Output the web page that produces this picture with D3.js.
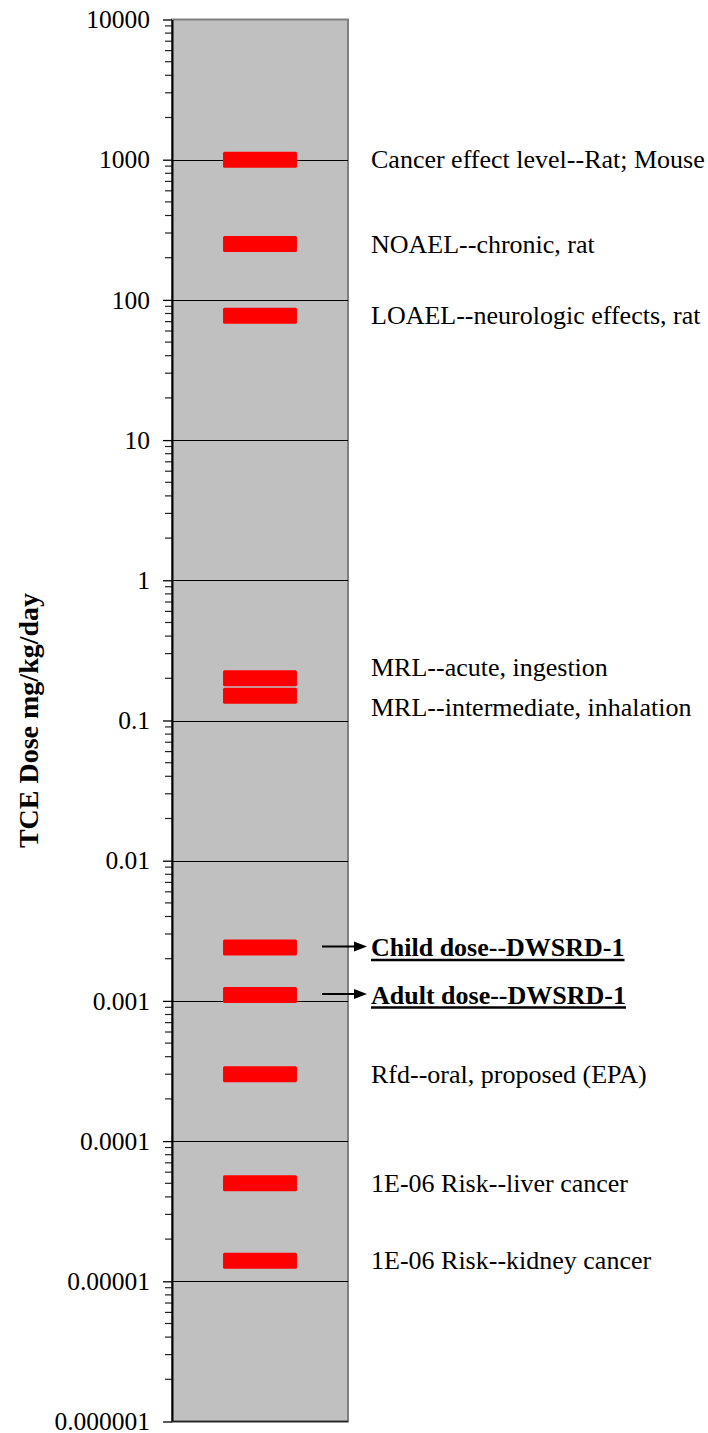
<!DOCTYPE html>
<html>
<head>
<meta charset="utf-8">
<script src="https://cdn.jsdelivr.net/npm/d3@7"></script>
<style>
  html, body { margin: 0; padding: 0; background: #ffffff; }
  svg { display: block; }
  text { font-family: "Liberation Serif", "Times New Roman", serif; }
</style>
</head>
<body>
<svg id="chart" width="708" height="1433"></svg>
<script>
// ---- data ----
const categories = [
  "Cancer effect level--Rat; Mouse",
  "NOAEL--chronic, rat",
  "LOAEL--neurologic effects, rat",
  "MRL--acute, ingestion",
  "MRL--intermediate, inhalation",
  "Child dose--DWSRD-1",
  "Adult dose--DWSRD-1",
  "Rfd--oral, proposed (EPA)",
  "1E-06 Risk--liver cancer",
  "1E-06 Risk--kidney cancer"
];
const doses = [1000, 250, 77, 0.2, 0.15, 0.0024, 0.0011, 0.0003, 0.00005, 0.000014];
const highlighted = [false, false, false, false, false, true, true, false, false, false];
const tickValues = [10000, 1000, 100, 10, 1, 0.1, 0.01, 0.001, 0.0001, 0.00001, 0.000001];
const tickLabels = ["10000", "1000", "100", "10", "1", "0.1", "0.01", "0.001", "0.0001", "0.00001", "0.000001"];
const yTitle = "TCE Dose mg/kg/day";

// ---- layout ----
const plot = { left: 172, right: 348, top: 19.5, bottom: 1421.5 };
const svg = d3.select("#chart");

const y = d3.scaleLog().domain([1e-6, 1e4]).range([plot.bottom, plot.top]);
const x = d3.scaleLinear().domain([0, 1]).range([plot.left, plot.right]);

// plot background
svg.append("rect")
  .attr("x", plot.left).attr("y", plot.top)
  .attr("width", plot.right - plot.left).attr("height", plot.bottom - plot.top)
  .attr("fill", "#c0c0c0").attr("stroke", "#808080").attr("stroke-width", 2);

// gridlines
svg.append("g").selectAll("line")
  .data(tickValues.filter(v => v < 1e4 && v > 1e-6))
  .join("line")
  .attr("x1", plot.left).attr("x2", plot.right)
  .attr("y1", d => Math.round(y(d)) + 0.5).attr("y2", d => Math.round(y(d)) + 0.5)
  .attr("stroke", "#000").attr("stroke-width", 1);

// minor ticks
const minor = [];
for (let e = -6; e < 4; e++) for (let m = 2; m <= 9; m++) minor.push(m * Math.pow(10, e));
svg.append("g").selectAll("line")
  .data(minor).join("line")
  .attr("x1", plot.left - 7).attr("x2", plot.left)
  .attr("y1", d => y(d)).attr("y2", d => y(d))
  .attr("stroke", "#222").attr("stroke-width", 1.2);

// major axis
const axis = d3.axisLeft(y)
  .tickValues(tickValues)
  .tickFormat((d, i) => tickLabels[i])
  .tickSize(9).tickSizeOuter(0).tickPadding(13);
const gAxis = svg.append("g").attr("transform", `translate(${plot.left},0)`).call(axis);
gAxis.select(".domain").attr("stroke", "#000").attr("stroke-width", 2);
gAxis.selectAll(".tick line").attr("stroke", "#000").attr("stroke-width", 1.3);
gAxis.selectAll(".tick text")
  .attr("fill", "#000")
  .style("font-family", '"Liberation Serif", serif')
  .style("font-size", "25.5px");

// bottom axis line
svg.append("line")
  .attr("x1", plot.left).attr("x2", plot.right)
  .attr("y1", plot.bottom).attr("y2", plot.bottom)
  .attr("stroke", "#222").attr("stroke-width", 1.5);

// y title
svg.append("text")
  .attr("transform", `translate(38,${(plot.top + plot.bottom) / 2}) rotate(-90)`)
  .attr("text-anchor", "middle")
  .style("font-weight", "bold")
  .style("font-size", "28px")
  .text(yTitle);

// bars (dash markers)
svg.append("g").selectAll("rect")
  .data(doses).join("rect")
  .attr("x", x(0.29)).attr("width", x(0.71) - x(0.29))
  .attr("y", d => y(d) - 8).attr("height", 16)
  .attr("rx", 1.5)
  .attr("fill", "#ff0000");

// labels: place at value, then spread to avoid overlap
const minGap = 40;
const ly = doses.map(d => y(d));
for (let iter = 0; iter < 50; iter++) {
  for (let i = 0; i < ly.length - 1; i++) {
    const gap = ly[i + 1] - ly[i];
    if (gap < minGap) {
      const push = (minGap - gap) / 2;
      ly[i] -= push; ly[i + 1] += push;
    }
  }
}
const labelX = 371;
const gl = svg.append("g");
categories.forEach((c, i) => {
  const t = gl.append("text")
    .attr("x", labelX).attr("y", ly[i])
    .attr("dy", "0.33em")
    .style("font-size", "26px")
    .style("font-weight", highlighted[i] ? "bold" : "normal")
    .attr("fill", "#000")
    .text(c);
  if (highlighted[i]) {
    const bb = t.node().getBBox();
    gl.append("line")
      .attr("x1", labelX).attr("x2", labelX + bb.width)
      .attr("y1", ly[i] + 12.5).attr("y2", ly[i] + 12.5)
      .attr("stroke", "#000").attr("stroke-width", 2.5);
    // arrow
    const ay = ly[i] - 1;
    gl.append("line")
      .attr("x1", 322).attr("x2", 356)
      .attr("y1", ay).attr("y2", ay)
      .attr("stroke", "#000").attr("stroke-width", 2);
    gl.append("path")
      .attr("d", `M367,${ay} L354,${ay - 5} L354,${ay + 5} Z`)
      .attr("fill", "#000");
  }
});
</script>
</body>
</html>
